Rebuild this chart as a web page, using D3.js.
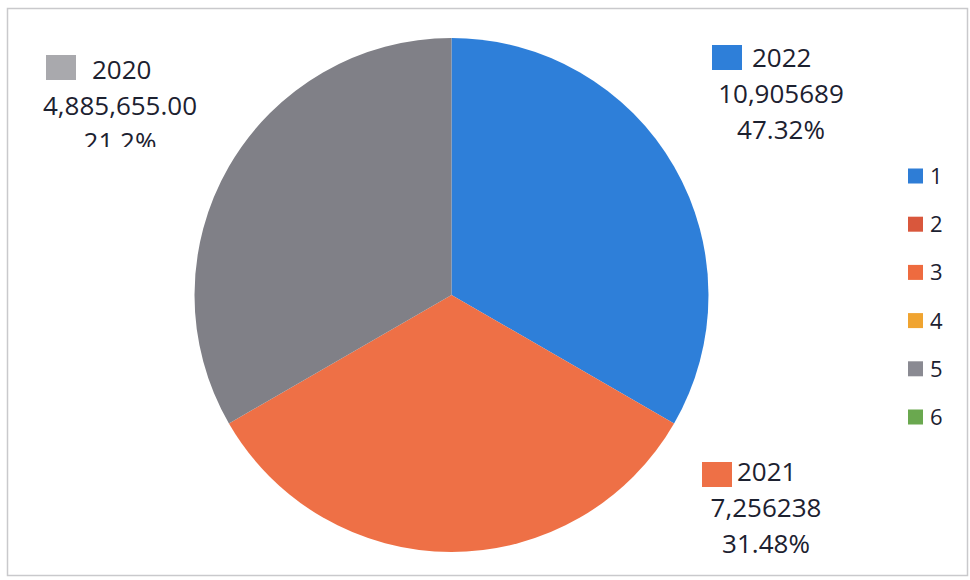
<!DOCTYPE html>
<html>
<head>
<meta charset="utf-8">
<script src="https://cdn.jsdelivr.net/npm/d3@7"></script>
<style>
  html, body { margin: 0; padding: 0; background: #fff; }
  svg text { font-family: "Open Sans", "Noto Sans", sans-serif; fill: #1c2130; }
</style>
</head>
<body>
<div id="chart"></div>
<script>
(function() {
  'use strict';

  // slices, clockwise from 12 o'clock
  var years = ['2022', '2021', '2020'];
  // the drawn slices are equal thirds in the picture
  var sliceShares = [1, 1, 1];
  var valueLabels = ['10,905689', '7,256238', '4,885,655.00'];
  var percentLabels = ['47.32%', '31.48%', '21.2%'];
  var sliceColors = ['#2e7fd9', '#ee7046', '#808087'];

  var legendNames = ['1', '2', '3', '4', '5', '6'];
  var legendColors = ['#2e7dd6', '#d9573c', '#ee6b3f', '#f0a430', '#8a8a92', '#6aa84f'];

  var width = 970, height = 580;
  var cx = 451.5, cy = 295, radius = 257;

  // where each data label block sits (centre x of lines 2-3, first baseline)
  var labelPos = [
    { keyX: 712, keyY: 45, textX: 752, cx: 781, y: 67, clipY: null },
    { keyX: 702, keyY: 462, textX: 737, cx: 766, y: 481, clipY: null },
    { keyX: 46, keyY: 55, textX: 92, cx: 120, y: 79, clipY: 147 }
  ];
  var lineGap = 36;
  var labelFont = '26px';

  var svg = d3.select('#chart').append('svg')
    .attr('width', width)
    .attr('height', height);

  // outer frame
  svg.append('rect')
    .attr('x', 7.5).attr('y', 8.5)
    .attr('width', 960).attr('height', 567)
    .attr('fill', '#fff')
    .attr('stroke', '#c9c9cc')
    .attr('stroke-width', 1.5);

  var pie = d3.pie().sort(null).value(function(d) { return d; });
  var arc = d3.arc().innerRadius(0).outerRadius(radius);

  var g = svg.append('g')
    .attr('transform', 'translate(' + cx + ',' + cy + ')');

  g.selectAll('path')
    .data(pie(sliceShares))
    .enter().append('path')
    .attr('d', arc)
    .attr('fill', function(d, i) { return sliceColors[i]; });

  var defs = svg.append('defs');

  years.forEach(function(year, i) {
    var p = labelPos[i];
    var lg = svg.append('g').attr('class', 'data-label');
    if (p.clipY !== null) {
      defs.append('clipPath').attr('id', 'clip' + i)
        .append('rect')
        .attr('x', 0).attr('y', 0)
        .attr('width', width).attr('height', p.clipY);
      lg.attr('clip-path', 'url(#clip' + i + ')');
    }
    lg.append('rect')
      .attr('x', p.keyX).attr('y', p.keyY)
      .attr('width', 30).attr('height', 25)
      .attr('fill', i === 2 ? '#a9a9ad' : sliceColors[i]);
    lg.append('text')
      .attr('x', p.textX).attr('y', p.y)
      .style('font-size', labelFont)
      .text(year);
    lg.append('text')
      .attr('x', p.cx).attr('y', p.y + lineGap)
      .attr('text-anchor', 'middle')
      .style('font-size', labelFont)
      .text(valueLabels[i]);
    lg.append('text')
      .attr('x', p.cx).attr('y', p.y + lineGap * 2)
      .attr('text-anchor', 'middle')
      .style('font-size', labelFont)
      .text(percentLabels[i]);
  });

  // legend
  var legendY = d3.scalePoint()
    .domain(legendNames)
    .range([176, 417]);

  var legend = svg.append('g').attr('class', 'legend');
  var item = legend.selectAll('g')
    .data(legendNames)
    .enter().append('g')
    .attr('transform', function(d) { return 'translate(908,' + legendY(d) + ')'; });

  item.append('rect')
    .attr('x', 0).attr('y', -7.5)
    .attr('width', 15).attr('height', 15)
    .attr('fill', function(d, i) { return legendColors[i]; });

  item.append('text')
    .attr('x', 22).attr('y', 8)
    .style('font-size', '22px')
    .text(function(d) { return d; });
})();
</script>
</body>
</html>
